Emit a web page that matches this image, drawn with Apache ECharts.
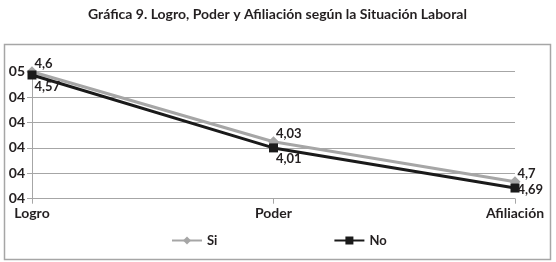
<!DOCTYPE html>
<html>
<head>
<meta charset="utf-8">
<script src="https://cdn.jsdelivr.net/npm/echarts@6/dist/echarts.min.js"></script>
<style>
html, body { margin: 0; padding: 0; background: #fff; }
#main { width: 556px; height: 262px; }
</style>
</head>
<body>
<div id="main"></div>
<script>
// categorías y valores
var categories = ['Logro', 'Poder', 'Afiliación']
var siValues = [4.50, 4.224, 4.067]
var noValues = [4.487, 4.20, 4.042]
// etiquetas tal como aparecen en la gráfica original
var siLabels = ['4,6', '4,03', '4,7']
var noLabels = ['4,57', '4,01', '4,69']
var yTickLabels = ['04', '04', '04', '04', '04', '05']
var yMin = 4.0
var yMax = 4.5
var yStep = 0.1

var noLabelOffsets = [[-2, 12], [-2, 11], [-2, 2]]

var textColor = '#231f20'
var font = 'Lato'

var chart = echarts.init(document.getElementById('main'))
var option = {
  backgroundColor: '#fff',
  animation: false,
  title: {
    text: 'Gráfica 9. Logro, Poder y Afiliación según la Situación Laboral',
    left: 83,
    top: 2,
    textStyle: {
      color: textColor,
      fontFamily: font,
      fontWeight: 'bold',
      fontSize: 14
    }
  },
  graphic: [{
    type: 'rect',
    shape: { x: 4.5, y: 44.5, width: 546, height: 215 },
    style: { fill: 'none', stroke: '#a6a6a6', lineWidth: 1.5 },
    silent: true
  }],
  legend: {
    bottom: 10,
    left: 166,
    itemGap: 116,
    itemWidth: 30,
    itemHeight: 10,
    textStyle: {
      color: textColor,
      fontFamily: font,
      fontWeight: 'bold',
      fontSize: 13
    },
    data: ['Si', 'No']
  },
  grid: {
    left: 32,
    right: 41,
    top: 71.7,
    bottom: 63.3,
    containLabel: false
  },
  xAxis: {
    type: 'category',
    data: categories,
    boundaryGap: false,
    axisLine: { lineStyle: { color: '#a6a6a6', width: 1 } },
    axisTick: { show: true, alignWithLabel: true, length: 5, lineStyle: { color: '#a6a6a6' } },
    axisLabel: {
      color: textColor,
      fontFamily: font,
      fontWeight: 'bold',
      fontSize: 14,
      margin: 8,
      showMaxLabel: true
    }
  },
  yAxis: {
    type: 'value',
    min: yMin,
    max: yMax,
    interval: yStep,
    axisLine: { show: true, lineStyle: { color: '#a6a6a6', width: 1 } },
    axisTick: { show: true, length: 5, lineStyle: { color: '#a6a6a6' } },
    splitLine: { lineStyle: { color: '#a6a6a6', width: 1 } },
    axisLabel: {
      color: textColor,
      fontFamily: font,
      fontWeight: 'bold',
      fontSize: 14,
      margin: 7,
      formatter: function (val) {
        return yTickLabels[Math.round((val - yMin) / yStep)]
      }
    }
  },
  series: [{
    name: 'Si',
    type: 'line',
    data: siValues,
    symbol: 'diamond',
    symbolSize: 11,
    lineStyle: { color: '#a6a6a6', width: 3 },
    itemStyle: { color: '#a6a6a6' },
    label: {
      show: true,
      position: 'right',
      distance: 0,
      offset: [-3, -8],
      color: textColor,
      fontFamily: font,
      fontWeight: 'bold',
      fontSize: 13,
      formatter: function (p) { return siLabels[p.dataIndex] }
    },
    z: 2
  }, {
    name: 'No',
    type: 'line',
    data: noValues.map(function (v, i) {
      return { value: v, label: { offset: noLabelOffsets[i] } }
    }),
    symbol: 'rect',
    symbolSize: 9,
    lineStyle: { color: '#1a1a1a', width: 3 },
    itemStyle: { color: '#1a1a1a' },
    label: {
      show: true,
      position: 'right',
      distance: 0,
      color: textColor,
      fontFamily: font,
      fontWeight: 'bold',
      fontSize: 13,
      formatter: function (p) { return noLabels[p.dataIndex] }
    },
    z: 3
  }]
}
chart.setOption(option)
</script>
</body>
</html>
